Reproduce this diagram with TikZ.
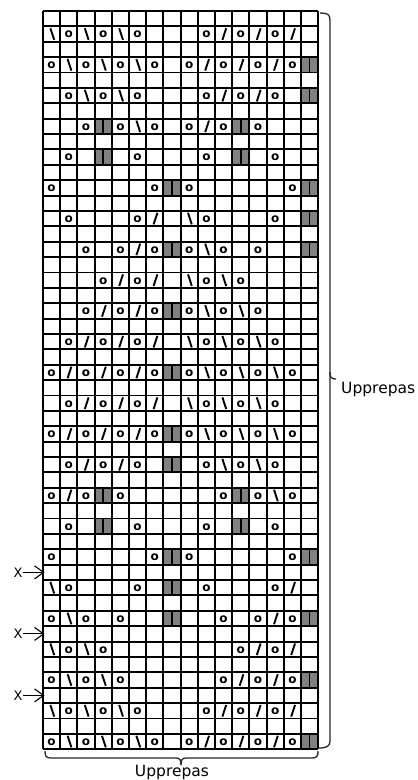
\documentclass[tikz,border=0pt]{standalone}
\usepackage{fontspec}
\setmainfont{DejaVu Sans}
\usetikzlibrary{arrows.meta}
\begin{document}
\begin{tikzpicture}[x=1pt,y=-1pt,
  gridline/.style={line width=1.9pt,black},
  yo/.style={font=\bfseries\fontsize{12}{12}\selectfont,inner sep=0pt},
  slashline/.style={line width=1.9pt,black},
  bracket/.style={line width=1.3pt,black!85},
  lbl/.style={font=\fontsize{15.5}{15.5}\selectfont,inner sep=0pt},
  xlbl/.style={font=\fontsize{13}{13}\selectfont,inner sep=0pt},
  xarrow/.style={line width=1.1pt,-{Straight Barb[length=9pt,width=13pt,line width=1.1pt]}}]
\useasboundingbox (0,0) rectangle (418,780);
\def\xo{43}\def\cw{17.2}\def\yo{11}\def\rh{15.38}
% grey cells
\foreach \r/\c in {4/16,6/16,8/4,8/12,10/4,10/12,12/8,12/16,14/16,16/8,16/16,20/8,24/8,28/8,30/8,32/4,32/12,34/4,34/12,36/8,36/16,38/8,40/8,40/16,44/16,48/16}{
  \fill[gray] ({\xo+(\c-1)*\cw},{\yo+(\r-1)*\rh}) rectangle ++(\cw,\rh);
  \draw[line width=1.6pt] ({\xo+(\c-0.5)*\cw},{\yo+(\r-1)*\rh}) -- ++(0,\rh);
}
% grid
\foreach \i in {0,...,16}{\draw[gridline] ({\xo+\i*\cw},\yo) -- ({\xo+\i*\cw},{\yo+48*\rh});}
\foreach \j in {0,...,48}{\draw[gridline] (\xo,{\yo+\j*\rh}) -- ({\xo+16*\cw},{\yo+\j*\rh});}
% yarn overs
\foreach \r/\c in {2/2,2/4,2/6,2/10,2/12,2/14,
 4/1,4/3,4/5,4/7,4/9,4/11,4/13,4/15,
 6/2,6/4,6/6,6/10,6/12,6/14,
 8/3,8/5,8/7,8/9,8/11,8/13,
 10/2,10/6,10/10,10/14,
 12/1,12/7,12/9,12/15,
 14/2,14/6,14/10,14/14,
 16/3,16/5,16/7,16/9,16/11,16/13,
 18/4,18/6,18/10,18/12,
 20/3,20/5,20/7,20/9,20/11,20/13,
 22/2,22/4,22/6,22/10,22/12,22/14,
 24/1,24/3,24/5,24/7,24/9,24/11,24/13,24/15,
 26/2,26/4,26/6,26/10,26/12,26/14,
 28/1,28/3,28/5,28/7,28/9,28/11,28/13,28/15,
 30/2,30/4,30/6,30/10,30/12,30/14,
 32/1,32/3,32/5,32/11,32/13,32/15,
 34/2,34/6,34/10,34/14,
 36/1,36/7,36/9,36/15,
 38/2,38/6,38/10,38/14,
 40/1,40/3,40/5,40/11,40/13,40/15,
 42/2,42/4,42/12,42/14,
 44/1,44/3,44/5,44/11,44/13,44/15,
 46/2,46/4,46/6,46/10,46/12,46/14,
 48/1,48/3,48/5,48/7,48/9,48/11,48/13,48/15}{
  \node[yo] (o-\r-\c) at ({\xo+(\c-0.5)*\cw},{\yo+(\r-0.5)*\rh+0.6}) {o};
}
% slashes  /
\foreach \r/\c in {2/11,2/13,2/15,4/10,4/12,4/14,6/11,6/13,8/10,14/7,16/6,18/5,18/7,20/4,20/6,
 22/3,22/5,22/7,24/2,24/4,24/6,26/3,26/5,26/7,28/2,28/4,28/6,30/3,30/5,32/2,38/15,40/14,
 42/13,42/15,44/12,44/14,46/11,46/13,46/15,48/10,48/12,48/14}{
  \draw[slashline] ({\xo+(\c-0.5)*\cw-1.2},{\yo+(\r-0.5)*\rh+5.8}) -- ++(3.8,-11.6);
}
% backslashes
\foreach \r/\c in {2/1,2/3,2/5,4/2,4/4,4/6,6/3,6/5,8/6,14/9,16/10,18/9,18/11,20/10,20/12,
 22/9,22/11,22/13,24/10,24/12,24/14,26/9,26/11,26/13,28/10,28/12,28/14,30/11,30/13,32/14,
 38/1,40/2,42/1,42/3,44/2,44/4,46/1,46/3,46/5,48/2,48/4,48/6}{
  \draw[slashline] ({\xo+(\c-0.5)*\cw-1.2},{\yo+(\r-0.5)*\rh-5.8}) -- ++(3.8,11.6);
}
% right bracket
\draw[bracket] (320,13) .. controls (327,13) and (330,14) .. (330,20) -- (330,372)
  .. controls (330,377) and (331,379) .. (336,379);
\draw[bracket] (330,372) -- (330,741) .. controls (330,746) and (327,748) .. (319,748);
\node[lbl,anchor=base west] (rep1) at (341,393) {Upprepas};
% bottom bracket
\draw[bracket] (45,751) .. controls (45,756) and (46,758) .. (51,758) -- (176,758)
  .. controls (180,758) and (181,760) .. (181,765);
\draw[bracket] (181,765) .. controls (181,760) and (182,758) .. (186,758) -- (312,758)
  .. controls (317,758) and (318,756) .. (318,751);
\node[lbl,anchor=base] (rep2) at (172,776) {Upprepas};
% X arrows
\foreach \k/\r in {1/37,2/41,3/45}{
  \node[xlbl] (x\k) at (18,{\yo+(\r-0.5)*\rh}) {X};
  \coordinate (e\k) at (44.5,{\yo+(\r-0.5)*\rh});
  \draw[xarrow] (x\k) -- (e\k);
}
\end{tikzpicture}
\end{document}
